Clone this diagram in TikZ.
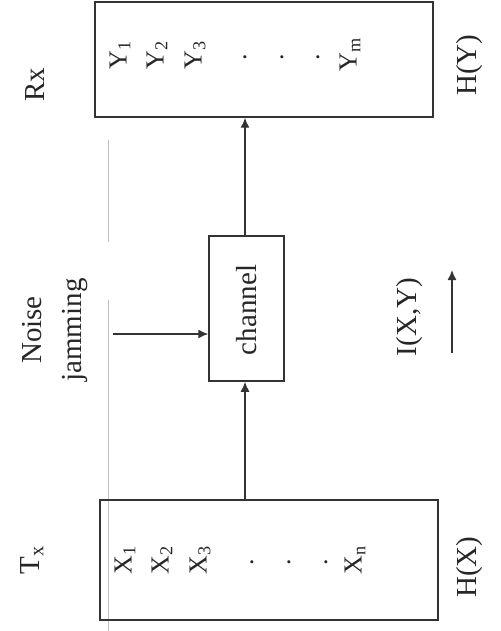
\documentclass[tikz,border=0pt]{standalone}
\usepackage{fontspec}
\setmainfont{Liberation Serif}
\usetikzlibrary{arrows.meta}
\tikzset{
  box/.style={draw=black!80, line width=1.5pt, minimum width=#1, inner sep=0pt},
  lbl/.style={rotate=90, inner sep=0pt, text=black!85, font=\fontsize{29}{40}\selectfont},
  sym/.style={rotate=90, inner sep=0pt, text=black!85, font=\fontsize{26}{30}\selectfont},
  arr/.style={draw=black!80, line width=1.4pt, -{Latex[length=10pt,width=9pt]}},
  faint/.style={draw=black!25, line width=0.8pt}
}
\begin{document}
\begin{tikzpicture}[x=1pt,y=-1pt]
\useasboundingbox (0,0) rectangle (500,631);
% faint scan line
\coordinate (f1) at (108,140);
\coordinate (f2) at (108,242);
\coordinate (f3) at (108,300);
\coordinate (f4) at (108,631);
\draw[faint] (f1) -- (f2);
\draw[faint] (f3) -- (f4);
% boxes
\node[box=338pt, minimum height=115pt] (rx) at (264,59.5) {};
\node[box=75pt, minimum height=145pt] (ch) at (246.5,308.5) {};
\node[box=338pt, minimum height=120pt] (tx) at (269,560) {};
% labels
\node[lbl] (rxl) at (35,85) {Rx};
\node[lbl] (txl) at (32,560) {T\textsubscript{x}};
\node[lbl] (hy) at (470,65) {H(Y)};
\node[lbl] (hx) at (470,567) {H(X)};
\node[lbl] (chl) at (247,310) {channel};
\node[lbl, align=center] (nj) at (55,330) {Noise\\jamming};
\node[lbl] (ixy) at (410,317) {I(X,Y)};
% Y symbols
\node[sym] (y1) at (120,55) {Y\textsubscript{1}};
\node[sym] (y2) at (157,55) {Y\textsubscript{2}};
\node[sym] (y3) at (195,55) {Y\textsubscript{3}};
\node[sym] (yd1) at (245,57) {.};
\node[sym] (yd2) at (282,57) {.};
\node[sym] (yd3) at (318,57) {.};
\node[sym] (ym) at (350,55) {Y\textsubscript{m}};
% X symbols
\node[sym] (x1) at (125,560) {X\textsubscript{1}};
\node[sym] (x2) at (162,560) {X\textsubscript{2}};
\node[sym] (x3) at (200,560) {X\textsubscript{3}};
\node[sym] (xd1) at (252,562) {.};
\node[sym] (xd2) at (289,562) {.};
\node[sym] (xd3) at (326,562) {.};
\node[sym] (xn) at (355,560) {X\textsubscript{n}};
% connectors
\coordinate (cb) at (245,381);
\coordinate (ct) at (245,236);
\draw[arr] (cb |- tx.north) -- (cb |- ch.south);
\draw[arr] (ct |- ch.north) -- (ct |- rx.south);
\coordinate (nz) at (113,334);
\draw[arr] (nz) -- (nz -| ch.west);
\coordinate (ia) at (452,353);
\coordinate (ib) at (452,270);
\draw[arr] (ia) -- (ib);
\end{tikzpicture}
\end{document}
